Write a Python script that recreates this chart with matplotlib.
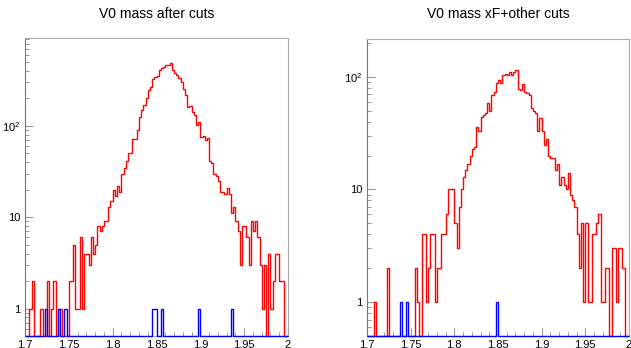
import numpy as np
import matplotlib
matplotlib.use('Agg')
import matplotlib.pyplot as plt
from matplotlib.ticker import MultipleLocator, LogLocator, FixedLocator, NullFormatter

plt.rcParams['font.family'] = ['Liberation Sans', 'DejaVu Sans']
plt.rcParams['mathtext.fontset'] = 'custom'
plt.rcParams['mathtext.rm'] = 'Liberation Sans'

# binning: 120 bins between 1.7 and 2.0
mass_lo, mass_hi, n_bins = 1.7, 2.0, 120

# counts per bin, left panel "after cuts"
left_red = [
    0, 0, 1, 2, 0, 0, 0, 1, 0, 0,
    2, 0, 1, 2, 0, 1, 1, 0, 0, 0,
    2, 2, 5, 1, 1, 6, 1, 4, 4, 3,
    6, 4, 5, 8, 7, 8, 9, 9, 13, 15,
    20, 17, 22, 19, 30, 35, 41, 50, 50, 72,
    72, 90, 126, 150, 170, 204, 246, 269, 327, 346,
    352, 410, 433, 443, 470, 460, 484, 410, 377, 360,
    333, 303, 257, 220, 162, 165, 143, 132, 103, 110,
    76, 78, 70, 73, 41, 39, 30, 28, 25, 19,
    19, 18, 21, 18, 11, 13, 9, 7, 3, 8,
    8, 6, 3, 9, 7, 9, 6, 3, 1, 3,
    0, 4, 1, 2, 4, 4, 2, 2, 0, 0,
]
left_blue_bins = [9, 15, 18, 58, 59, 62, 79, 94]

# counts per bin, right panel "xF+other cuts"
right_red = [
    0, 0, 0, 1, 0, 0, 0, 0, 0, 2,
    0, 0, 0, 0, 0, 0, 0, 0, 0, 0,
    0, 0, 2, 1, 0, 4, 4, 1, 2, 4,
    4, 1, 2, 2, 4, 4, 6, 10, 10, 10,
    5, 3, 7, 10, 13, 15, 17, 20, 23, 24,
    36, 33, 44, 46, 48, 59, 50, 69, 74, 88,
    93, 88, 104, 107, 103, 111, 104, 111, 115, 78,
    76, 87, 74, 72, 69, 53, 50, 48, 33, 43,
    33, 25, 28, 20, 19, 19, 15, 17, 11, 13,
    11, 10, 14, 9, 8, 7, 4, 2, 5, 1,
    5, 1, 1, 4, 4, 5, 6, 1, 1, 2,
    2, 0, 3, 3, 1, 3, 3, 2, 0, 0,
]
right_blue_bins = [15, 18, 59]

titles = ['V0 mass after cuts', 'V0 mass xF+other cuts']
xtick_vals = [1.7, 1.75, 1.8, 1.85, 1.9, 1.95, 2.0]
xtick_labels = ['1.7', '1.75', '1.8', '1.85', '1.9', '1.95', '2']

edges = np.linspace(mass_lo, mass_hi, n_bins + 1)


def blue_counts(bins):
    c = np.zeros(n_bins)
    c[bins] = 1
    return c


W, H = 631, 348
fig = plt.figure(figsize=(W / 100, H / 100), dpi=100)

panels = [
    (left_red, blue_counts(left_blue_bins), titles[0], [25, 38, 288, 336], 920),
    (right_red, blue_counts(right_blue_bins), titles[1], [367, 39, 629, 336], 217),
]

ymin = 0.5
for red, blue, title, (x0, y0, x1, y1), ymax in panels:
    ax = fig.add_axes([x0 / W, 1 - y1 / H, (x1 - x0) / W, (y1 - y0) / H])
    ax.set_yscale('log')
    ax.set_xlim(mass_lo, mass_hi)
    ax.set_ylim(ymin, ymax)

    # zero bins sit on the bottom of the frame like ROOT does
    r = np.maximum(np.asarray(red, float), ymin)
    b = np.maximum(blue, ymin)
    ax.stairs(r, edges, color='#ff0000', lw=1.0, baseline=None, clip_on=False, zorder=3)
    ax.stairs(b, edges, color='#0000ff', lw=1.0, baseline=None, clip_on=False, zorder=4)

    ax.xaxis.set_major_locator(FixedLocator(xtick_vals))
    ax.set_xticklabels(xtick_labels)
    ax.xaxis.set_minor_locator(MultipleLocator(0.01))

    ax.yaxis.set_major_locator(FixedLocator([1, 10, 100]))
    ax.set_yticklabels(['1', '10', r'$\mathregular{10^{2}}$'])
    ax.yaxis.set_minor_locator(LogLocator(base=10, subs=np.arange(2, 10) * 0.1, numticks=20))
    ax.yaxis.set_minor_formatter(NullFormatter())

    ax.tick_params(which='both', direction='in', top=False, right=False,
                   color='#999999', labelsize=8, pad=3)
    ax.tick_params(which='major', length=6, width=0.8)
    ax.tick_params(which='minor', length=3, width=0.7)

    for side in ['top', 'right', 'bottom']:
        ax.spines[side].set_color('#aaaaaa')
        ax.spines[side].set_linewidth(0.8)
    ax.spines['left'].set_color('#777777')
    ax.spines['left'].set_linewidth(0.8)

    fig.text((x0 + x1) / 2 / W, 1 - 14 / H, title, ha='center', va='center', fontsize=10)

fig.savefig('out.png', dpi=100)
